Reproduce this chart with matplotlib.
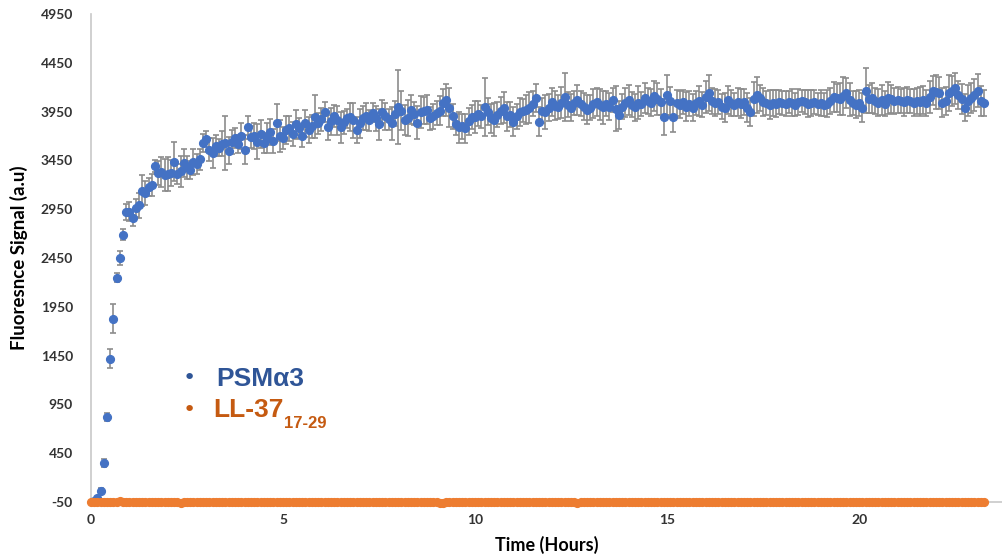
import numpy as np
import matplotlib
matplotlib.use('Agg')
import matplotlib.pyplot as plt

# sampling every 5 minutes, 280 readings
hours = np.arange(280) / 12.0

psm_a3 = [
    -45, -35, -10, 65, 350, 820, 1420, 1830, 2250, 2450, 2690, 2920,
    2925, 2860, 2960, 2990, 3140, 3115, 3180, 3200, 3395, 3320, 3330, 3300,
    3310, 3320, 3435, 3310, 3340, 3425, 3380, 3350, 3435, 3415, 3460, 3630,
    3670, 3560, 3525, 3600, 3580, 3620, 3630, 3550, 3640, 3680, 3620, 3700,
    3560, 3790, 3690, 3700, 3640, 3720, 3630, 3680, 3740, 3650, 3835, 3700,
    3680, 3760, 3780, 3720, 3820, 3780, 3700, 3830, 3760, 3800, 3895, 3830,
    3870, 3945, 3790, 3850, 3905, 3860, 3790, 3840, 3880, 3895, 3860, 3760,
    3830, 3885, 3900, 3860, 3940, 3880, 3820, 3950, 3900, 3870, 3830, 3930,
    4000, 3960, 3865, 3885, 3970, 3930, 3835, 3945, 3960, 3970, 3880, 3900,
    3935, 3960, 4040, 4070, 3990, 3900, 3820, 3790, 3800, 3780, 3850, 3895,
    3895, 3930, 3900, 3995, 3950, 3880, 3865, 3920, 3960, 3990, 3900, 3920,
    3845, 3900, 3945, 3960, 3970, 3990, 4030, 4090, 3845, 3960, 3945, 3990,
    4050, 4010, 3995, 4040, 4100, 4020, 3990, 4040, 4070, 4030, 4000, 3970,
    3990, 4030, 4050, 4020, 3995, 4030, 4000, 4070, 3980, 3915, 4000, 4040,
    4070, 4020, 3995, 4040, 4030, 4090, 4060, 4040, 4110, 4080, 4050, 3895,
    4120, 4060, 3895, 4040, 4020, 4050, 4000, 4030, 3990, 4040, 4060, 4020,
    4100, 4140, 4060, 4040, 4050, 4000, 3990, 4070, 4040, 4020, 4050, 4030,
    4050, 3990, 3945, 4080, 4120, 4090, 4050, 4040, 4020, 4040, 4030, 4050,
    4040, 4030, 4050, 4040, 4020, 4050, 4060, 4050, 4030, 4040, 4050, 4030,
    4040, 4020, 4030, 4060, 4100, 4090, 4080, 4110, 4140, 4070, 4040, 4020,
    4040, 3990, 4165, 4080, 4090, 4060, 4040, 4070, 4030, 4090, 4080, 4060,
    4070, 4060, 4050, 4070, 4060, 4040, 4060, 4050, 4070, 4040, 4100, 4165,
    4150, 4140, 4040, 4060, 4140, 4160, 4190, 4120, 4080, 3990, 4060, 4090,
    4120, 4165, 4060, 4040,
]

psm_a3_err = [
    0, 0, 10, 25, 40, 40, 100, 150, 50, 70, 60, 80,
    100, 80, 90, 130, 160, 120, 90, 110, 60, 120, 150, 160,
    170, 130, 200, 100, 160, 140, 120, 90, 130, 100, 110, 90,
    80, 120, 150, 110, 90, 130, 280, 140, 120, 100, 90, 130,
    150, 120, 110, 130, 180, 140, 100, 150, 130, 120, 190, 160,
    110, 140, 130, 120, 150, 100, 110, 140, 130, 120, 220, 110,
    120, 100, 130, 140, 110, 150, 160, 120, 100, 140, 180, 130,
    150, 120, 140, 110, 100, 130, 160, 120, 140, 110, 170, 130,
    380, 200, 150, 180, 150, 120, 170, 160, 140, 150, 120, 130,
    120, 150, 140, 160, 200, 130, 110, 160, 130, 150, 140, 120,
    160, 130, 120, 300, 140, 150, 170, 130, 140, 160, 150, 130,
    150, 130, 140, 120, 150, 160, 130, 140, 150, 130, 170, 140,
    140, 150, 120, 160, 250, 130, 140, 120, 150, 130, 140, 150,
    130, 150, 140, 160, 170, 130, 140, 120, 230, 140, 130, 150,
    150, 130, 140, 170, 120, 150, 130, 140, 150, 160, 130, 180,
    200, 140, 150, 130, 140, 120, 150, 130, 140, 120, 150, 130,
    160, 180, 130, 140, 120, 130, 150, 140, 130, 120, 140, 150,
    130, 150, 140, 170, 180, 130, 140, 120, 150, 130, 140, 120,
    120, 130, 110, 140, 120, 130, 110, 120, 140, 130, 120, 110,
    130, 120, 140, 130, 150, 140, 160, 190, 150, 170, 120, 140,
    130, 150, 230, 140, 150, 130, 140, 150, 130, 160, 140, 130,
    130, 120, 140, 130, 120, 140, 130, 150, 140, 130, 160, 150,
    170, 160, 150, 140, 180, 150, 160, 140, 150, 140, 160, 150,
    160, 170, 150, 130,
]

ll37 = [
    -48, -46, -50, -47, -45, -49, -51, -46, -48, -44, -47, -49,
    -46, -50, -48, -45, -47, -51, -46, -49, -47, -45, -48, -50,
    -47, -49, -46, -48, -58, -47, -45, -49, -48, -46, -50, -47,
    -45, -48, -49, -46, -47, -50, -48, -45, -49, -47, -46, -48,
    -49, -47, -45, -48, -50, -46, -47, -49, -48, -45, -47, -46,
    -48, -50, -47, -46, -49, -45, -48, -47, -50, -46, -48, -49,
    -47, -45, -48, -50, -46, -47, -49, -48, -46, -45, -47, -49,
    -48, -46, -50, -47, -45, -48, -49, -46, -47, -50, -48, -45,
    -47, -49, -48, -46, -50, -47, -45, -48, -49, -46, -47, -48,
    -46, -61, -59, -48, -47, -45, -49, -48, -46, -50, -47, -48,
    -49, -46, -47, -48, -45, -50, -48, -47, -46, -49, -48, -45,
    -47, -49, -46, -48, -50, -47, -45, -48, -49, -46, -47, -50,
    -48, -45, -47, -49, -46, -48, -50, -47, -56, -48, -49, -46,
    -47, -50, -48, -45, -47, -49, -46, -48, -50, -47, -45, -48,
    -49, -46, -47, -50, -48, -45, -47, -49, -46, -48, -50, -47,
    -45, -48, -49, -46, -47, -50, -48, -45, -47, -49, -46, -48,
    -50, -47, -45, -48, -49, -46, -47, -50, -48, -45, -47, -49,
    -46, -48, -50, -47, -45, -48, -49, -46, -47, -50, -48, -45,
    -47, -49, -46, -48, -50, -47, -45, -48, -49, -46, -47, -50,
    -48, -45, -47, -49, -46, -48, -50, -47, -45, -48, -49, -46,
    -47, -50, -48, -45, -47, -49, -46, -48, -50, -47, -45, -48,
    -49, -46, -47, -50, -48, -45, -47, -49, -46, -48, -50, -47,
    -45, -48, -49, -46, -47, -50, -48, -45, -47, -49, -46, -48,
    -50, -47, -45, -48,
]

yticks = [-50, 450, 950, 1450, 1950, 2450, 2950, 3450, 3950, 4450, 4950]
xticks = [0, 5, 10, 15, 20]

plt.rcParams['font.family'] = ['Lato', 'DejaVu Sans']
plt.rcParams['axes.unicode_minus'] = False

W, H = 1003, 556
fig = plt.figure(figsize=(W / 100, H / 100), dpi=100)
ax = fig.add_axes([91 / W, 1 - 502 / H, (1002 - 91) / W, (502 - 14) / H])

ax.errorbar(hours, psm_a3, yerr=psm_a3_err, fmt='o', color='#4472C4',
            ecolor='#8C8C8C', elinewidth=1.2, capsize=2.3, capthick=1.2,
            markersize=5.6, zorder=3)
ax.plot(hours, ll37, 'o', color='#ED7D31', markersize=5.6, zorder=4,
        clip_on=False)

ax.set_xlim(0, 23.72)
ax.set_ylim(-50, 4950)
ax.set_yticks(yticks)
ax.set_xticks(xticks)
ax.tick_params(length=0, labelsize=10, colors='#333333')
ax.tick_params(axis='y', pad=13)
ax.tick_params(axis='x', pad=9)
for lab in ax.get_xticklabels() + ax.get_yticklabels():
    lab.set_fontweight('bold')

for s in ['top', 'right']:
    ax.spines[s].set_visible(False)
for s in ['left', 'bottom']:
    ax.spines[s].set_color('#C8C8C8')
    ax.spines[s].set_linewidth(1.2)

ax.set_xlabel('Time (Hours)', fontsize=13, fontweight='bold', labelpad=7)
ax.set_ylabel('Fluoresnce Signal (a.u)', fontsize=13.5, fontweight='bold', labelpad=9)

# legend drawn as text, like the original slide
def fx(px):
    return px / W

def fy(py):
    return 1 - py / H

fig.text(fx(189), fy(378), '\u2022', color='#2F5597', fontsize=16,
         ha='center', va='center', family='DejaVu Sans')
fig.text(fx(189), fy(410), '\u2022', color='#C55A11', fontsize=16,
         ha='center', va='center', family='DejaVu Sans')
fig.text(fx(216), fy(379), 'PSM\u03b13', color='#2F5597', fontsize=19,
         fontweight='bold', ha='left', va='center',
         family=['Liberation Sans', 'DejaVu Sans'])
fig.text(fx(213), fy(410), 'LL-37', color='#C55A11', fontsize=19,
         fontweight='bold', ha='left', va='center',
         family=['Liberation Sans', 'DejaVu Sans'])
fig.text(fx(284), fy(424), '17-29', color='#C55A11', fontsize=12,
         fontweight='bold', ha='left', va='center',
         family=['Liberation Sans', 'DejaVu Sans'])

fig.savefig('out.png', dpi=100)
